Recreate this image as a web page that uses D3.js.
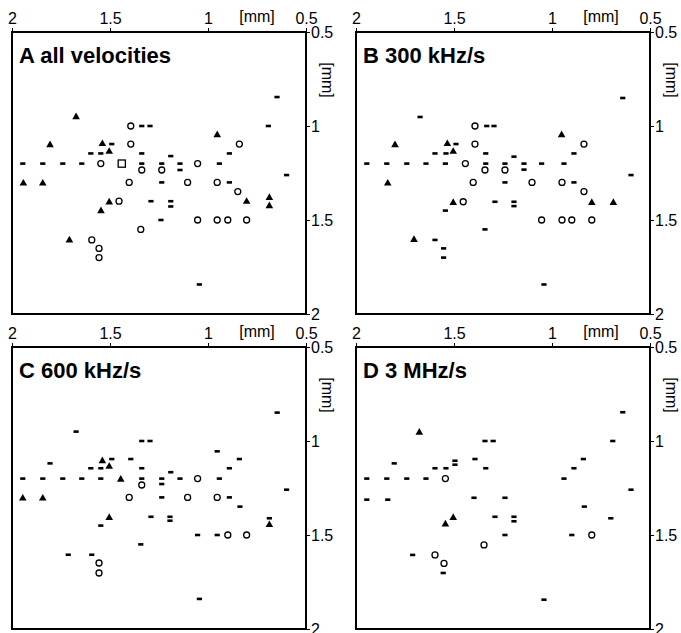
<!DOCTYPE html>
<html>
<head>
<meta charset="utf-8">
<script src="https://cdn.jsdelivr.net/npm/d3@7"></script>
<style>
  body { margin: 0; background: #fff; }
  svg { display: block; font-family: Arial, "Liberation Sans", sans-serif; }
</style>
</head>
<body>
<svg width="681" height="633"></svg>
<script>
// axis ticks, both axes in mm
const xTicks = [2, 1.5, 1, 0.5];
const yTicks = [0.5, 1, 1.5, 2];
const titles = ['A all velocities', 'B 300 kHz/s', 'C 600 kHz/s', 'D 3 MHz/s'];

// [x, y] positions per panel, grouped by marker kind
const aDash = [[0.648,0.846],[1.338,1.0],[1.296,1.0],[0.692,1.0],[1.491,1.096],[1.598,1.146],[1.547,1.146],
  [1.338,1.146],[1.190,1.160],[0.891,1.146],[1.945,1.2],[1.843,1.2],[1.741,1.2],[1.644,1.2],[1.338,1.2],
  [1.236,1.2],[1.143,1.2],[0.942,1.2],[1.143,1.234],[0.599,1.261],[1.236,1.30],[0.891,1.30],[1.291,1.40],
  [1.190,1.40],[1.190,1.428],[1.240,1.50],[1.044,1.843]];
const aCircle = [[1.394,1.0],[1.394,1.096],[0.840,1.096],[1.547,1.2],[1.053,1.2],[1.338,1.234],[1.236,1.234],
  [1.402,1.30],[1.104,1.30],[0.953,1.30],[0.848,1.349],[1.454,1.40],[1.053,1.5],[0.953,1.5],[0.899,1.5],
  [0.803,1.5],[1.343,1.55],[1.593,1.606],[1.556,1.651],[1.556,1.70]];
const aTriangle = [[1.673,0.947],[0.953,1.043],[1.806,1.096],[1.539,1.09],[1.504,1.131],[1.942,1.30],
  [1.843,1.30],[0.687,1.376],[0.687,1.42],[0.803,1.397],[1.504,1.40],[1.546,1.447],[1.707,1.603]];
const aSquare = [[1.44,1.2]];

const bDash = [[0.639,0.851],[1.673,0.952],[1.333,1.0],[1.296,1.0],[1.490,1.096],[1.597,1.146],[1.541,1.146],
  [1.338,1.146],[1.194,1.163],[0.888,1.146],[1.945,1.2],[1.843,1.2],[1.741,1.2],[1.643,1.2],[1.544,1.2],
  [1.338,1.2],[1.240,1.2],[1.143,1.2],[1.053,1.2],[0.939,1.2],[1.143,1.232],[0.597,1.261],[1.240,1.30],
  [0.888,1.30],[1.291,1.403],[1.194,1.403],[1.194,1.426],[1.544,1.45],[1.342,1.55],[1.597,1.606],
  [1.553,1.651],[1.553,1.70],[1.041,1.843]];
const bCircle = [[1.393,1.0],[1.393,1.096],[0.837,1.096],[1.442,1.2],[1.342,1.234],[1.240,1.234],[1.402,1.30],
  [1.102,1.30],[0.949,1.30],[0.837,1.349],[1.453,1.403],[1.053,1.5],[0.949,1.5],[0.899,1.5],[0.797,1.5]];
const bTriangle = [[0.951,1.043],[1.801,1.096],[1.534,1.09],[1.504,1.131],[1.838,1.30],[0.797,1.403],
  [0.687,1.403],[1.504,1.403],[1.704,1.60]];
const bSquare = [];

const cDash = [[0.647,0.849],[1.673,0.95],[1.338,1.0],[1.296,1.0],[0.953,1.055],[1.806,1.119],[1.491,1.096],
  [1.394,1.096],[0.840,1.096],[1.598,1.145],[1.547,1.145],[1.338,1.145],[1.190,1.166],[0.891,1.145],
  [1.945,1.2],[1.843,1.2],[1.741,1.2],[1.644,1.2],[1.547,1.2],[1.338,1.2],[1.236,1.2],[1.143,1.2],
  [0.942,1.2],[1.236,1.229],[0.599,1.259],[1.236,1.30],[0.891,1.30],[0.837,1.349],[1.291,1.403],
  [1.194,1.403],[1.194,1.424],[0.687,1.411],[1.547,1.45],[1.053,1.5],[0.953,1.5],[1.343,1.55],
  [1.713,1.605],[1.593,1.605],[1.044,1.84]];
const cCircle = [[1.053,1.2],[1.338,1.234],[1.402,1.30],[1.104,1.30],[0.953,1.30],[0.899,1.5],[0.803,1.5],
  [1.556,1.649],[1.556,1.702]];
const cTriangle = [[1.539,1.101],[1.504,1.131],[1.445,1.2],[1.945,1.30],[1.843,1.30],[1.504,1.403],[0.687,1.441]];
const cSquare = [];

const dDash = [[0.639,0.847],[1.342,1.0],[1.300,1.0],[0.690,1.0],[0.840,1.096],[1.805,1.119],[1.597,1.145],
  [1.541,1.145],[1.495,1.105],[1.495,1.126],[1.393,1.096],[1.338,1.145],[0.888,1.145],[1.945,1.2],
  [1.843,1.2],[1.741,1.2],[1.643,1.2],[0.939,1.2],[0.597,1.259],[1.945,1.312],[1.838,1.312],[1.398,1.302],
  [1.240,1.302],[0.835,1.349],[1.291,1.403],[1.194,1.403],[1.194,1.427],[0.700,1.411],[1.240,1.5],
  [0.899,1.5],[1.711,1.606],[1.555,1.702],[1.041,1.844]];
const dCircle = [[1.544,1.2],[0.797,1.5],[1.347,1.553],[1.597,1.606],[1.551,1.651]];
const dTriangle = [[1.677,0.95],[1.504,1.403],[1.544,1.438]];
const dSquare = [];

const W = 294, H = 282;
const panels = [
  { title: titles[0], left: 12,  top: 32,  dash: aDash, circle: aCircle, triangle: aTriangle, square: aSquare },
  { title: titles[1], left: 356, top: 32,  dash: bDash, circle: bCircle, triangle: bTriangle, square: bSquare },
  { title: titles[2], left: 12,  top: 347, dash: cDash, circle: cCircle, triangle: cTriangle, square: cSquare },
  { title: titles[3], left: 356, top: 347, dash: dDash, circle: dCircle, triangle: dTriangle, square: dSquare }
];

const x = d3.scaleLinear().domain([2, 0.5]).range([0, W]);
const y = d3.scaleLinear().domain([0.5, 2]).range([0, H]);

const svg = d3.select('svg');

panels.forEach(p => {
  const g = svg.append('g').attr('transform', `translate(${p.left},${p.top})`);

  g.append('rect')
    .attr('width', W).attr('height', H)
    .attr('fill', 'none').attr('stroke', '#000').attr('stroke-width', 2);

  const xAxis = g.append('g')
    .call(d3.axisTop(x).tickValues(xTicks).tickSize(4).tickPadding(4).tickFormat(d3.format('')));
  xAxis.select('.domain').remove();
  xAxis.attr('font-size', 16).attr('font-family', null);

  const yAxis = g.append('g')
    .attr('transform', `translate(${W},0)`)
    .call(d3.axisRight(y).tickValues(yTicks).tickSize(4).tickPadding(1).tickFormat(d3.format('')));
  yAxis.select('.domain').remove();
  yAxis.attr('font-size', 16).attr('font-family', null);

  g.append('text')
    .attr('x', 245).attr('y', -10)
    .attr('text-anchor', 'middle')
    .style('font-size', '16px')
    .text('[mm]');

  g.append('text')
    .attr('transform', `translate(${W + 16},48) rotate(90)`)
    .attr('text-anchor', 'middle')
    .style('font-size', '16px')
    .text('[mm]');

  g.append('text')
    .attr('x', 7).attr('y', 31)
    .style('font-size', '22px')
    .style('font-weight', 'bold')
    .text(p.title);

  g.selectAll('.dash')
    .data(p.dash)
    .enter()
    .append('rect')
    .classed('dash', true)
    .attr('x', d => x(d[0]) - 2.6)
    .attr('y', d => y(d[1]) - 1.3)
    .attr('width', 5.2)
    .attr('height', 2.6)
    .attr('fill', '#000');

  g.selectAll('.circ')
    .data(p.circle)
    .enter()
    .append('circle')
    .classed('circ', true)
    .attr('cx', d => x(d[0]))
    .attr('cy', d => y(d[1]))
    .attr('r', 3)
    .attr('fill', '#fff')
    .attr('stroke', '#000')
    .attr('stroke-width', 1.3);

  g.selectAll('.sq')
    .data(p.square)
    .enter()
    .append('rect')
    .classed('sq', true)
    .attr('x', d => x(d[0]) - 3.6)
    .attr('y', d => y(d[1]) - 3.6)
    .attr('width', 7.2)
    .attr('height', 7.2)
    .attr('fill', '#fff')
    .attr('stroke', '#000')
    .attr('stroke-width', 1.3);

  g.selectAll('.tri')
    .data(p.triangle)
    .enter()
    .append('path')
    .classed('tri', true)
    .attr('transform', d => `translate(${x(d[0])},${y(d[1])})`)
    .attr('d', 'M0,-3.5L3.8,3.2L-3.8,3.2Z')
    .attr('fill', '#000');
});
</script>
</body>
</html>
